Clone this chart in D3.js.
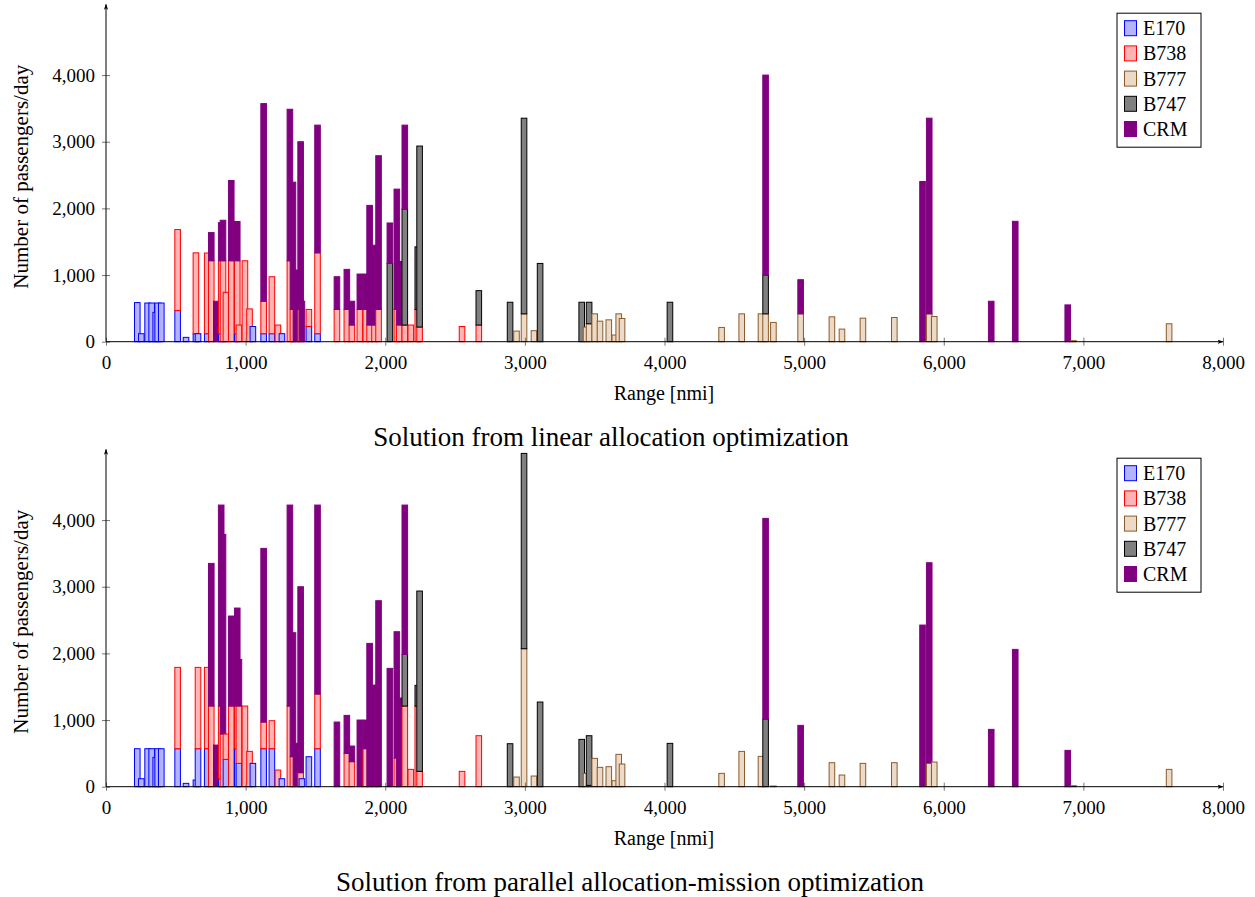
<!DOCTYPE html>
<html>
<head>
<meta charset="utf-8">
<script src="https://cdn.jsdelivr.net/npm/d3@7"></script>
<style>
  body { margin: 0; background: #fff; }
  svg text { font-family: "Liberation Serif", "DejaVu Serif", serif !important; fill: #000; }
</style>
</head>
<body>
<script>
// aircraft types, stacked bottom -> top
const aircraft = ["E170", "B738", "B777", "B747", "CRM"];

// route ranges [nmi]
const ranges = [224, 253, 298, 327, 356, 370, 396, 513, 573, 644, 659, 725, 754, 790, 825, 838, 859, 897, 940, 952,
  995, 1028, 1052, 1129, 1188, 1231, 1260, 1317, 1339, 1360, 1394, 1403, 1453, 1515, 1654, 1725, 1761, 1818, 1861, 1888,
  1923, 1952, 2033, 2083, 2100, 2140, 2183, 2233, 2246, 2550, 2670, 2894, 2940, 2994, 3065, 3109, 3407, 3438, 3460, 3500,
  3538, 3601, 3644, 3672, 3696, 4039, 4409, 4553, 4691, 4724, 4780, 4975, 5199, 5271, 5421, 5646, 5848, 5896, 5932, 6340,
  6512, 6888, 6929, 7614];

// linear allocation optimization (passengers/day)
const linE170 = [587, 120, 580, 580, 440, 580, 580, 467, 65, 120, 120, 120, 0, 0, 120, 0, 0, 0, 120, 0,
  0, 0, 228, 120, 120, 0, 120, 0, 0, 0, 0, 0, 228, 120, 0, 0, 0, 0, 0, 0,
  0, 0, 0, 0, 0, 0, 0, 0, 0, 0, 0, 0, 0, 0, 0, 0, 0, 0, 0, 0,
  0, 0, 0, 0, 0, 0, 0, 0, 0, 0, 0, 0, 0, 0, 0, 0, 0, 0, 0, 0,
  0, 0, 0, 0];
const linB738 = [0, 0, 0, 0, 0, 0, 0, 1215, 0, 1213, 0, 1210, 1214, 0, 1094, 1214, 741, 1214, 1094, 250,
  1214, 492, 0, 487, 855, 250, 0, 1214, 484, 0, 484, 0, 256, 1213, 484, 484, 250, 484, 484, 250,
  250, 484, 0, 484, 250, 250, 250, 484, 220, 228, 250, 0, 0, 0, 0, 0, 0, 0, 0, 0,
  0, 0, 0, 0, 0, 0, 0, 0, 0, 0, 0, 0, 0, 0, 0, 0, 0, 0, 0, 0,
  0, 0, 0, 0];
const linB777 = [0, 0, 0, 0, 0, 0, 0, 0, 0, 0, 0, 0, 0, 0, 0, 0, 0, 0, 0, 0,
  0, 0, 0, 0, 0, 0, 0, 0, 0, 0, 0, 0, 0, 0, 0, 0, 0, 0, 0, 0,
  0, 0, 0, 0, 0, 0, 0, 0, 0, 0, 0, 0, 159, 418, 165, 0, 0, 219, 269, 418,
  308, 328, 100, 418, 348, 0, 214, 418, 418, 418, 289, 418, 373, 189, 353, 363, 0, 418, 378, 0,
  0, 0, 15, 269];
const linB747 = [0, 0, 0, 0, 0, 0, 0, 0, 0, 0, 0, 0, 0, 0, 0, 0, 0, 0, 0, 0,
  0, 0, 0, 0, 0, 0, 0, 0, 0, 0, 0, 0, 0, 0, 0, 0, 0, 0, 0, 0,
  0, 0, 1174, 0, 0, 1740, 0, 939, 2715, 0, 516, 592, 0, 2935, 0, 1174, 592, 0, 323, 0,
  0, 0, 0, 0, 0, 592, 0, 0, 0, 582, 0, 0, 0, 0, 0, 0, 0, 0, 0, 0,
  0, 0, 0, 0];
const linCRM = [0, 0, 0, 0, 0, 0, 0, 0, 0, 0, 0, 0, 423, 607, 572, 608, 0, 1204, 589, 0,
  0, 0, 0, 2965, 0, 0, 0, 2273, 1909, 1075, 2516, 607, 0, 1916, 491, 601, 357, 531, 531, 1795,
  1198, 2306, 607, 1805, 954, 1259, 0, 0, 0, 0, 0, 0, 0, 0, 0, 0, 0, 0, 0, 0,
  0, 0, 0, 0, 0, 0, 0, 0, 0, 3000, 0, 512, 0, 0, 0, 0, 2403, 2935, 0, 607,
  1806, 552, 0, 0];

// parallel allocation-mission optimization (passengers/day)
const parE170 = [570, 120, 570, 570, 440, 570, 570, 570, 50, 100, 570, 570, 0, 0, 120, 0, 410, 0, 570, 350,
  0, 0, 350, 570, 570, 0, 120, 0, 0, 0, 0, 120, 450, 570, 0, 0, 0, 0, 0, 0,
  0, 0, 0, 0, 0, 0, 0, 0, 0, 0, 0, 0, 0, 0, 0, 0, 0, 0, 0, 0,
  0, 0, 0, 0, 0, 0, 0, 0, 0, 0, 0, 0, 0, 0, 0, 0, 0, 0, 0, 0,
  0, 0, 0, 0];
const parB738 = [0, 0, 0, 0, 0, 0, 0, 1220, 0, 0, 1220, 1220, 1210, 0, 1090, 790, 380, 1210, 640, 860,
  1210, 530, 0, 400, 420, 250, 0, 1210, 450, 0, 210, 0, 0, 820, 0, 500, 375, 0, 570, 0,
  0, 0, 0, 430, 0, 1210, 260, 1210, 230, 230, 765, 0, 0, 0, 0, 0, 0, 0, 0, 0,
  0, 0, 0, 0, 0, 0, 0, 0, 0, 0, 0, 0, 0, 0, 0, 0, 0, 0, 0, 0,
  0, 0, 0, 0];
const parB777 = [0, 0, 0, 0, 0, 0, 0, 0, 0, 0, 0, 0, 0, 0, 0, 0, 0, 0, 0, 0,
  0, 0, 0, 0, 0, 0, 0, 0, 0, 0, 0, 0, 0, 0, 0, 0, 0, 0, 0, 0,
  0, 0, 0, 0, 0, 0, 0, 0, 0, 0, 0, 0, 145, 2070, 160, 0, 0, 200, 20, 425,
  290, 300, 90, 485, 340, 0, 200, 530, 455, 0, 10, 0, 360, 175, 350, 360, 0, 355, 370, 0,
  0, 0, 15, 260];
const parB747 = [0, 0, 0, 0, 0, 0, 0, 0, 0, 0, 0, 0, 0, 0, 0, 0, 0, 0, 0, 0,
  0, 0, 0, 0, 0, 0, 0, 0, 0, 0, 0, 0, 0, 0, 0, 0, 0, 0, 0, 0,
  0, 0, 0, 0, 0, 775, 0, 310, 2705, 0, 0, 645, 0, 2930, 0, 1270, 710, 0, 745, 0,
  0, 0, 0, 0, 0, 650, 0, 0, 0, 1015, 0, 0, 0, 0, 0, 0, 0, 0, 0, 0,
  0, 0, 0, 0];
const parCRM = [0, 0, 0, 0, 0, 0, 0, 0, 0, 0, 0, 0, 2140, 625, 3015, 2995, 0, 1350, 1470, 700,
  0, 0, 0, 2605, 0, 0, 0, 3015, 1860, 650, 2790, 0, 0, 2835, 970, 570, 235, 1000, 430, 2150,
  1525, 2790, 1775, 1895, 1330, 2240, 0, 0, 0, 0, 0, 0, 0, 0, 0, 0, 0, 0, 0, 0,
  0, 0, 0, 0, 0, 0, 0, 0, 0, 3010, 0, 920, 0, 0, 0, 0, 2425, 3005, 0, 860,
  2060, 545, 0, 0];

const xTicks = [0, 1000, 2000, 3000, 4000, 5000, 6000, 7000, 8000];
const yTicks = [0, 1000, 2000, 3000, 4000];

const fills = {E170: "#b3b3ff", B738: "#ffb3b3", B777: "#ecd9c6", B747: "#808080", CRM: "#800080"};
const strokes = {E170: "#0000ff", B738: "#ff0000", B777: "#8c5a2b", B747: "#000000", CRM: "#800080"};
const serif = "Liberation Serif, DejaVu Serif, serif";

const svg = d3.select("body").append("svg")
  .attr("width", 1255)
  .attr("height", 897);

svg.append("defs").append("marker")
  .attr("id", "arrow")
  .attr("viewBox", "0 0 10 10")
  .attr("refX", 9).attr("refY", 5)
  .attr("markerWidth", 6).attr("markerHeight", 6)
  .attr("orient", "auto")
  .append("path")
  .attr("d", "M0,1.5 L10,5 L0,8.5 L2.5,5 Z")
  .attr("fill", "#000");

const x = d3.scaleLinear().domain([0, 8000]).range([106, 1223]);
const fmt = d3.format(",");

function drawPanel(base, cols, caption, capX) {
  const g = svg.append("g").attr("font-family", serif);
  const y = d3.scaleLinear().domain([0, 5000]).range([base, base - 333.3]);

  const rows = ranges.map((r, i) => {
    const o = {range: r};
    aircraft.forEach((a, k) => o[a] = cols[k][i]);
    return o;
  });
  const stacked = d3.stack().keys(aircraft)(rows);

  // one group per route so that later routes sit on top
  const bw = 5.6;
  rows.forEach((d, i) => {
    const rg = g.append("g");
    stacked.forEach(s => {
      const seg = s[i];
      if (seg[1] - seg[0] <= 0) return;
      rg.append("rect")
        .attr("x", x(d.range) - bw / 2)
        .attr("y", y(seg[1]))
        .attr("width", bw)
        .attr("height", y(seg[0]) - y(seg[1]))
        .attr("fill", fills[s.key])
        .attr("stroke", strokes[s.key])
        .attr("stroke-width", 1);
    });
  });

  // x axis
  const xa = g.append("g")
    .attr("transform", "translate(0," + base + ")")
    .call(d3.axisBottom(x).tickValues(xTicks).tickFormat(fmt).tickSize(4).tickPadding(10));
  xa.attr("font-family", serif);
  xa.select(".domain").remove();
  xa.selectAll(".tick line").attr("y1", -4).attr("y2", 4).attr("stroke", "#777");
  xa.selectAll(".tick text").attr("font-size", 19).attr("font-family", serif);

  // y axis
  const ya = g.append("g")
    .attr("transform", "translate(106,0)")
    .call(d3.axisLeft(y).tickValues(yTicks).tickFormat(fmt).tickSize(4).tickPadding(7));
  ya.attr("font-family", serif);
  ya.select(".domain").remove();
  ya.selectAll(".tick line").attr("x1", -4).attr("x2", 4).attr("stroke", "#777");
  ya.selectAll(".tick text").attr("font-size", 19).attr("font-family", serif);

  g.append("line")
    .attr("x1", 106).attr("x2", 1223)
    .attr("y1", base).attr("y2", base)
    .attr("stroke", "#000").attr("marker-end", "url(#arrow)");
  g.append("line")
    .attr("x1", 106).attr("x2", 106)
    .attr("y1", base).attr("y2", y(5000) - 4)
    .attr("stroke", "#000").attr("marker-end", "url(#arrow)");

  g.append("text")
    .attr("x", 664).attr("y", base + 58)
    .attr("text-anchor", "middle")
    .attr("font-size", 20)
    .text("Range [nmi]");

  g.append("text")
    .attr("transform", "translate(28," + (base - 165) + ") rotate(-90)")
    .attr("text-anchor", "middle")
    .attr("font-size", 21)
    .text("Number of passengers/day");

  g.append("text")
    .attr("x", capX).attr("y", base + 104)
    .attr("text-anchor", "middle")
    .attr("font-size", 27)
    .text(caption);

  // legend
  const ly = base - 328.5;
  const lg = g.append("g");
  lg.append("rect")
    .attr("x", 1117).attr("y", ly)
    .attr("width", 84).attr("height", 134)
    .attr("fill", "#fff").attr("stroke", "#000");
  aircraft.forEach((a, k) => {
    const cy = ly + 15 + k * 25.2;
    lg.append("rect")
      .attr("x", 1124.5).attr("y", cy - 7.5)
      .attr("width", 12).attr("height", 15)
      .attr("fill", fills[a]).attr("stroke", strokes[a]);
    lg.append("text")
      .attr("x", 1143).attr("y", cy + 7)
      .attr("font-size", 20)
      .text(a);
  });
}

drawPanel(341.7, [linE170, linB738, linB777, linB747, linCRM], "Solution from linear allocation optimization", 611);
drawPanel(786.7, [parE170, parB738, parB777, parB747, parCRM], "Solution from parallel allocation-mission optimization", 630);
</script>
</body>
</html>
